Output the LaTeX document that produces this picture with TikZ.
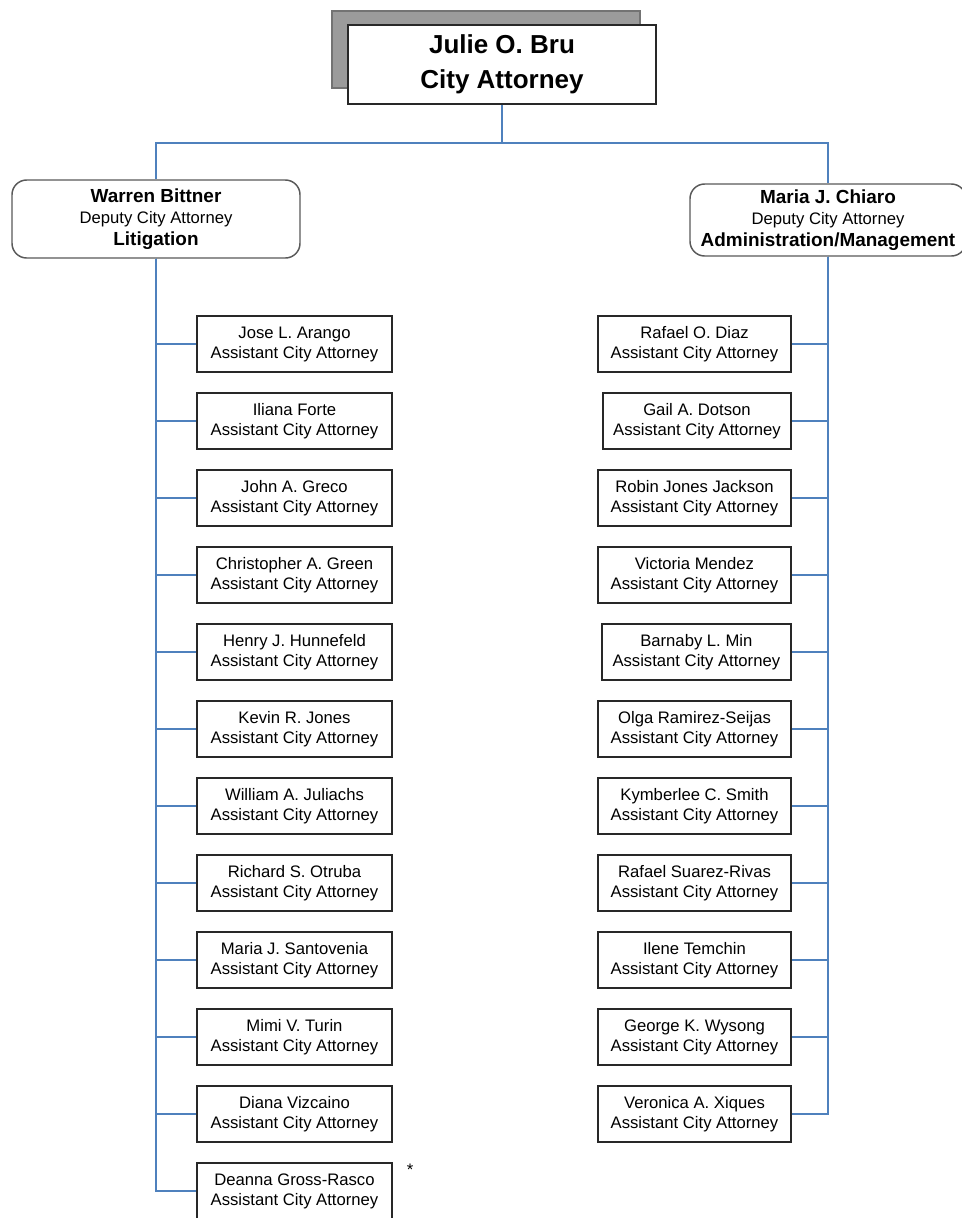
\documentclass[tikz,border=0pt]{standalone}
\usepackage{fontspec}
\setmainfont{Liberation Sans}
\usepackage{tikz}
\definecolor{linkblue}{RGB}{79,129,189}
\definecolor{shadowgray}{RGB}{155,155,155}
\definecolor{boxline}{RGB}{40,40,40}

\begin{document}
\begin{tikzpicture}[x=0.75pt,y=-0.75pt,
    staffbox/.style={draw=boxline, line width=1.5pt, fill=white, minimum width=146pt, minimum height=42pt,
      align=center, inner sep=2pt, font=\fontsize{12.5}{15}\selectfont},
    deputybox/.style={draw=black!65, line width=1.1pt, fill=white, rounded corners=11pt, align=center,
      inner sep=2pt, font=\fontsize{12.5}{16.2}\selectfont},
    link/.style={draw=linkblue, line width=1.4pt}]
  \useasboundingbox (0,0) rectangle (962,1218);

  % chief with shadow
  \draw[fill=shadowgray, draw=black!55, line width=1pt] (332,11) rectangle (640,88);
  \node[draw=boxline, line width=1.5pt, fill=white, minimum width=231pt, minimum height=59pt, align=center,
    font=\fontsize{19.5}{26}\selectfont\bfseries] (bru) at (502,64.5) {Julie O. Bru\\City Attorney};

  % deputies
  \node[deputybox, minimum width=216pt, minimum height=58.5pt] (bittner) at (156,219) {%
    {\fontsize{14.2}{16.2}\selectfont\bfseries Warren Bittner}\\
    Deputy City Attorney\\
    {\fontsize{14.2}{16.2}\selectfont\bfseries Litigation}};
  \node[deputybox, minimum width=207pt, minimum height=54pt] (chiaro) at (828,220) {%
    {\fontsize{14.2}{16.2}\selectfont\bfseries Maria J. Chiaro}\\
    Deputy City Attorney\\
    {\fontsize{14.2}{16.2}\selectfont\bfseries Administration/Management}};

  \coordinate (bus) at (502,143);
  \draw[link] (bru.south) -- (bus);
  \draw[link] (bus) -| (bittner.north);
  \draw[link] (bus) -| (chiaro.north);

  % litigation staff
  \foreach \who [count=\i] in {Jose L. Arango, Iliana Forte, John A. Greco, Christopher A. Green,
      Henry J. Hunnefeld, Kevin R. Jones, William A. Juliachs, Richard S. Otruba,
      Maria J. Santovenia, Mimi V. Turin, Diana Vizcaino, Deanna Gross-Rasco} {
    \node[staffbox] (lit\i) at (294.5,{344+77*(\i-1)}) {\who\\Assistant City Attorney};
    \draw[link] (bittner.south) |- (lit\i.west);
  }
  \node[font=\fontsize{12.5}{15}\selectfont] (star) at (410,1170) {*};

  % administration staff
  \foreach \who/\boxw [count=\i] in {Rafael O. Diaz/144.75, Gail A. Dotson/141, Robin Jones Jackson/144.75,
      Victoria Mendez/144.75, Barnaby L. Min/142, Olga Ramirez-Seijas/144.75, Kymberlee C. Smith/144.75,
      Rafael Suarez-Rivas/144.75, Ilene Temchin/144.75, George K. Wysong/144.75, Veronica A. Xiques/144.75} {
    \node[staffbox, minimum width=\boxw pt, anchor=east] (adm\i) at (792,{344+77*(\i-1)}) {\who\\Assistant City Attorney};
    \draw[link] (chiaro.south) |- (adm\i.east);
  }
\end{tikzpicture}
\end{document}
